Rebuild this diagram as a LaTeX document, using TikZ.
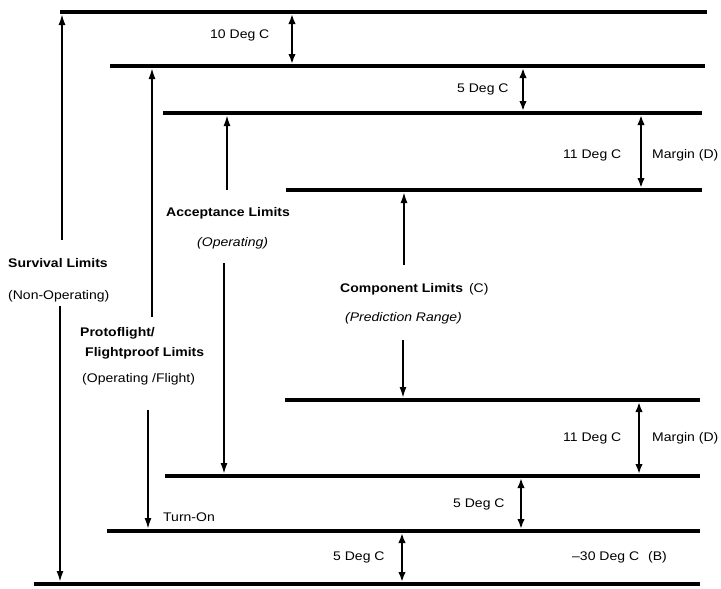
\documentclass[tikz,border=0pt]{standalone}
\usepackage{fontspec}
\setmainfont{Liberation Sans}
\newfontfamily\labfont[FakeStretch=1.12]{Liberation Sans}
\usetikzlibrary{arrows.meta}
\begin{document}
\begin{tikzpicture}[x=1pt,y=-1pt,
  level/.style={line width=3.2pt},
  rangearrow/.style={line width=1.8pt,-{Latex[length=11pt,width=7pt]}},
  dimarrow/.style={line width=2.3pt,{Latex[length=10pt,width=7.5pt]}-{Latex[length=10pt,width=7.5pt]}},
  txt/.style={inner sep=0pt,anchor=west,font=\labfont\fontsize{12.5}{14}\selectfont},
  btxt/.style={txt,font=\labfont\bfseries\fontsize{12.5}{14}\selectfont}]
\useasboundingbox (0,0) rectangle (721,589);
% level lines
\coordinate (L1a) at (60,12);  \coordinate (L1b) at (707,12);
\coordinate (L2a) at (110,66); \coordinate (L2b) at (705,66);
\coordinate (L3a) at (163,113);\coordinate (L3b) at (702,113);
\coordinate (L4a) at (286,190);\coordinate (L4b) at (702,190);
\coordinate (L5a) at (285,400);\coordinate (L5b) at (700,400);
\coordinate (L6a) at (165,476);\coordinate (L6b) at (700,476);
\coordinate (L7a) at (107,531);\coordinate (L7b) at (700,531);
\coordinate (L8a) at (34,584); \coordinate (L8b) at (700,584);
\foreach \i in {1,...,8} \draw[level] (L\i a) -- (L\i b);
% labels
\node[btxt] (surv) at (8,263) {Survival Limits};
\node[txt] (survsub) at (8,296) {(Non-Operating)};
\node[btxt] (acc) at (166,213) {Acceptance Limits};
\node[txt] (accsub) at (197,243) {\textit{(Operating)}};
\node[btxt] (pf1) at (80,333) {Protoflight/};
\node[btxt] (pf2) at (85,353) {Flightproof Limits};
\node[txt] (pfsub) at (82,379) {(Operating /Flight)};
\node[txt] (comp) at (340,289) {\textbf{Component Limits}\hspace{6pt}(C)};
\node[txt] (compsub) at (345,318) {\textit{(Prediction Range)}};
\node[txt] (turnon) at (163,517) {Turn-On};
\node[txt] (d10) at (210,35) {10 Deg C};
\node[txt] (d5a) at (457,89) {5 Deg C};
\node[txt] (d11a) at (563,155) {11 Deg C};
\node[txt] (ma) at (652,155) {Margin (D)};
\node[txt] (d11b) at (563,438) {11 Deg C};
\node[txt] (mb) at (652,438) {Margin (D)};
\node[txt] (d5b) at (453,504) {5 Deg C};
\node[txt] (d5c) at (333,557) {5 Deg C};
\node[txt] (b30) at (572,557) {\textendash30 Deg C\hspace{9pt}(B)};
% range arrows (split around labels)
\coordinate (s1) at (62,240);  \coordinate (s1e) at (62,14);
\coordinate (s2) at (60,306);  \coordinate (s2e) at (60,582);
\coordinate (p1) at (152,317); \coordinate (p1e) at (152,68);
\coordinate (p2) at (148,410); \coordinate (p2e) at (148,529);
\coordinate (a1) at (227,190); \coordinate (a1e) at (227,115);
\coordinate (a2) at (224,263); \coordinate (a2e) at (224,474);
\coordinate (c1) at (404,265); \coordinate (c1e) at (404,192);
\coordinate (c2) at (403,340); \coordinate (c2e) at (403,398);
\draw[rangearrow] (s1) -- (s1e);
\draw[rangearrow] (s2) -- (s2e);
\draw[rangearrow] (p1) -- (p1e);
\draw[rangearrow] (p2) -- (p2e);
\draw[rangearrow] (a1) -- (a1e);
\draw[rangearrow] (a2) -- (a2e);
\draw[rangearrow] (c1) -- (c1e);
\draw[rangearrow] (c2) -- (c2e);
% dimension arrows
\coordinate (k1t) at (292,14);  \coordinate (k1b) at (292,64);
\coordinate (k2t) at (523,68);  \coordinate (k2b) at (523,111);
\coordinate (k3t) at (641,115); \coordinate (k3b) at (641,188);
\coordinate (k4t) at (639,402); \coordinate (k4b) at (639,474);
\coordinate (k5t) at (521,478); \coordinate (k5b) at (521,529);
\coordinate (k6t) at (402,533); \coordinate (k6b) at (402,582);
\foreach \i in {1,...,6} \draw[dimarrow] (k\i t) -- (k\i b);
\end{tikzpicture}
\end{document}
